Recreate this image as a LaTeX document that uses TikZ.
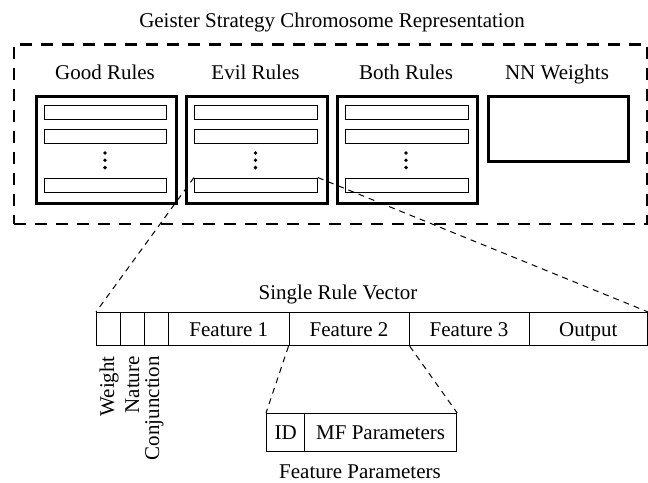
\documentclass[tikz,border=0pt]{standalone}
\usepackage{fontspec}
\setmainfont{Liberation Serif}
\begin{document}
\begin{tikzpicture}[x=1pt,y=-1pt,
  lbl/.style={font=\fontsize{21}{24}\selectfont, inner sep=0pt},
  grp/.style={draw, line width=2.5pt, inner sep=0pt, anchor=north west},
  slot/.style={draw, line width=1.3pt, inner sep=0pt, anchor=north west, minimum width=122.5pt, minimum height=14pt},
  cell/.style={draw, line width=1.2pt, inner sep=0pt, anchor=north west, font=\fontsize{21}{24}\selectfont, text height=13.9pt, text depth=0pt},
  link/.style={line width=1pt, dash pattern=on 6pt off 5pt},
  dot/.style={circle, fill, inner sep=0pt, minimum size=3.8pt}]
\useasboundingbox (0,0) rectangle (648,482);

\node[lbl, anchor=base] (title) at (332,27) {Geister Strategy Chromosome Representation};
\node[draw, line width=2.5pt, dash pattern=on 12pt off 9pt, anchor=north west, inner sep=0pt,
      minimum width=633.5pt, minimum height=179.5pt] (outer) at (12.5,43) {};

% group labels
\node[lbl, anchor=base] (lgood) at (105,79) {Good Rules};
\node[lbl, anchor=base] (levil) at (255.5,79) {Evil Rules};
\node[lbl, anchor=base] (lboth) at (406,79) {Both Rules};
\node[lbl, anchor=base] (lnn) at (557,79) {NN Weights};

% group boxes
\node[grp, minimum width=140pt, minimum height=107pt] (good) at (35,95) {};
\node[grp, minimum width=141pt, minimum height=107pt] (evil) at (185,95) {};
\node[grp, minimum width=140pt, minimum height=107pt] (both) at (336,95) {};
\node[grp, minimum width=140pt, minimum height=65pt] (nn) at (487,95) {};

% slots
\node[slot] (good1) at (43.5,105) {};
\node[slot] (good2) at (43.5,128.5) {};
\node[slot] (good3) at (43.5,177.5) {};
\node[slot] (evil1) at (194,105) {};
\node[slot] (evil2) at (194,128.5) {};
\node[slot] (evil3) at (194,177.5) {};
\node[slot] (both1) at (345,105) {};
\node[slot] (both2) at (345,128.5) {};
\node[slot] (both3) at (345,177.5) {};

% dots
\foreach \cx/\nm in {105/good, 255.5/evil, 406/both}{
  \node[dot] (\nm d1) at (\cx,153) {};
  \node[dot] (\nm d2) at (\cx,160.3) {};
  \node[dot] (\nm d3) at (\cx,167.6) {};
}

% single rule vector
\node[lbl, anchor=base] (lvec) at (338,299.5) {Single Rule Vector};
\node[cell, minimum width=24pt, minimum height=33pt] (c0) at (96,312) {};
\node[cell, minimum width=24pt, minimum height=33pt] (c1) at (120,312) {};
\node[cell, minimum width=24pt, minimum height=33pt] (c2) at (144,312) {};
\node[cell, minimum width=120.5pt, minimum height=33pt] (c3) at (168,312) {Feature 1};
\node[cell, minimum width=120pt, minimum height=33pt] (c4) at (288.5,312) {Feature 2};
\node[cell, minimum width=120pt, minimum height=33pt] (c5) at (408.5,312) {Feature 3};
\node[cell, minimum width=118.5pt, minimum height=33pt] (c6) at (528.5,312) {Output};

% rotated labels
\node[lbl, rotate=90, anchor=base east] (lw) at (114,356) {Weight};
\node[lbl, rotate=90, anchor=base east] (ln) at (139,356) {Nature};
\node[lbl, rotate=90, anchor=base east] (lc) at (159,356) {Conjunction};

% feature parameters
\node[cell, minimum width=38pt, minimum height=38pt] (pid) at (266,413) {ID};
\node[cell, minimum width=152pt, minimum height=38pt] (pmf) at (304,413) {MF Parameters};
\node[lbl, anchor=base] (lparam) at (360,478) {Feature Parameters};

% connectors
\draw[link] (evil3.north west) -- (c0.north west);
\draw[link] (evil3.north east) -- (c6.north east);
\draw[link] (c4.south west) -- (pid.north west);
\draw[link] (c4.south east) -- (pmf.north east);
\end{tikzpicture}
\end{document}
